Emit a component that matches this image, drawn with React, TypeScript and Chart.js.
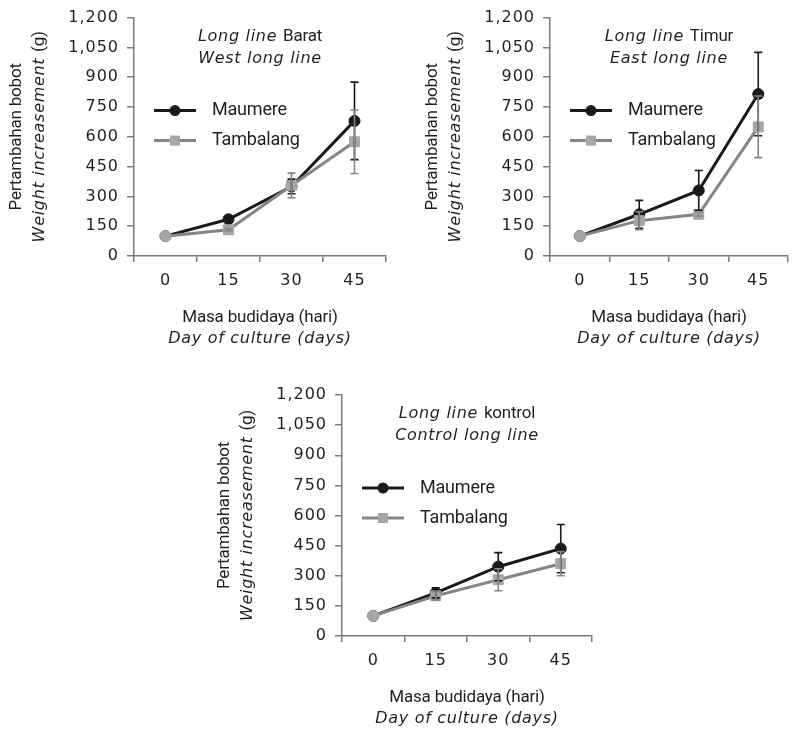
import React, { useEffect, useRef } from "react";
import { Chart, registerables } from "chart.js";
Chart.register(...registerables);

// ---- data ----
const days = ["0", "15", "30", "45"];
const seriesNames = ["Maumere", "Tambalang"];
const yMin = 0;
const yMax = 1200;
const yStep = 150;

const westMaumere = [100, 185, 350, 680];
const westMaumereErr = [0, 12, 37, 195];
const westTambalang = [100, 132, 355, 575];
const westTambalangErr = [0, 6, 62, 160];

const eastMaumere = [100, 210, 330, 815];
const eastMaumereErr = [0, 70, 100, 210];
const eastTambalang = [100, 178, 210, 650];
const eastTambalangErr = [0, 45, 10, 155];

const ctrlMaumere = [100, 215, 345, 435];
const ctrlMaumereErr = [0, 25, 70, 120];
const ctrlTambalang = [100, 200, 280, 360];
const ctrlTambalangErr = [0, 20, 55, 60];

const yTitle1 = "Pertambahan bobot";
const yTitle2 = "Weight increasement";
const xTitle1 = "Masa budidaya (hari)";
const xTitle2 = "Day of culture (days)";

type Seg = { text: string; italic?: boolean };

const ITALIC = 'italic 16px "DejaVu Sans"';
const NORMAL = '17px Roboto';
const TEXT = "#231f20";
const BLACK = "#1a1a1a";
const GRAY_LINE = "#858585";
const GRAY_MARK = "#a6a6a6";
const AXIS = "#7a7a7a";

function drawRich(ctx: CanvasRenderingContext2D, segs: Seg[], cx: number, cy: number) {
  let total = 0;
  const widths = segs.map((s) => {
    ctx.font = s.italic ? ITALIC : NORMAL;
    (ctx as any).letterSpacing = s.italic ? "0.7px" : "-0.2px";
    const w = ctx.measureText(s.text).width;
    total += w;
    return w;
  });
  let x = cx - total / 2;
  ctx.textAlign = "left";
  ctx.textBaseline = "middle";
  ctx.fillStyle = TEXT;
  segs.forEach((s, i) => {
    ctx.font = s.italic ? ITALIC : NORMAL;
    (ctx as any).letterSpacing = s.italic ? "0.7px" : "-0.2px";
    ctx.fillText(s.text, x, cy);
    x += widths[i];
  });
}

type PanelProps = {
  left: number;
  top: number;
  width: number;
  height: number;
  pad: { top: number; right: number; bottom: number; left: number };
  title1: Seg[];
  title2: Seg[];
  maumere: number[];
  maumereErr: number[];
  tambalang: number[];
  tambalangErr: number[];
};

function Panel(p: PanelProps) {
  const ref = useRef<HTMLCanvasElement | null>(null);
  useEffect(() => {
    if (!ref.current) return;
    const decor = {
      id: "decor",
      beforeUpdate(chart: any) {
        chart.ctx.letterSpacing = "1px";
      },
      beforeDraw(chart: any) {
        chart.ctx.letterSpacing = "1px";
      },
      afterDatasetsDraw(chart: any) {
        const ctx: CanvasRenderingContext2D = chart.ctx;
        const ys = chart.scales.y;
        chart.data.datasets.forEach((ds: any, i: number) => {
          const meta = chart.getDatasetMeta(i);
          ctx.save();
          ctx.strokeStyle = ds.errColor;
          ctx.lineWidth = 1.6;
          ds.data.forEach((v: number, j: number) => {
            const e = ds.errors[j];
            if (!e) return;
            const x = meta.data[j].x;
            const y1 = ys.getPixelForValue(v + e);
            const y2 = ys.getPixelForValue(v - e);
            ctx.beginPath();
            ctx.moveTo(x, y1);
            ctx.lineTo(x, y2);
            ctx.moveTo(x - 4, y1);
            ctx.lineTo(x + 4, y1);
            ctx.moveTo(x - 4, y2);
            ctx.lineTo(x + 4, y2);
            ctx.stroke();
          });
          ctx.restore();
        });
      },
      afterDraw(chart: any) {
        const ctx: CanvasRenderingContext2D = chart.ctx;
        const a = chart.chartArea;
        const cx = (a.left + a.right) / 2;
        const cy = (a.top + a.bottom) / 2;
        ctx.save();
        // in-plot title
        drawRich(ctx, p.title1, cx, a.top + 19);
        drawRich(ctx, p.title2, cx, a.top + 41);
        // x title
        drawRich(ctx, [{ text: xTitle1 }], cx, a.bottom + 62);
        drawRich(ctx, [{ text: xTitle2, italic: true }], cx, a.bottom + 83);
        // y title
        ctx.save();
        ctx.translate(a.left - 117, cy);
        ctx.rotate(-Math.PI / 2);
        drawRich(ctx, [{ text: yTitle1 }], 0, 0);
        ctx.restore();
        ctx.save();
        ctx.translate(a.left - 94, cy);
        ctx.rotate(-Math.PI / 2);
        drawRich(ctx, [{ text: yTitle2 + " ", italic: true }, { text: "(g)" }], 0, 0);
        ctx.restore();
        // legend
        const rows = [
          { name: seriesNames[0], line: BLACK, fill: BLACK, shape: "circle", y: a.top + 93 },
          { name: seriesNames[1], line: GRAY_LINE, fill: GRAY_MARK, shape: "rect", y: a.top + 123 },
        ];
        rows.forEach((r) => {
          ctx.strokeStyle = r.line;
          ctx.lineWidth = 3;
          ctx.beginPath();
          ctx.moveTo(a.left + 20, r.y);
          ctx.lineTo(a.left + 62, r.y);
          ctx.stroke();
          ctx.fillStyle = r.fill;
          const mx = a.left + 41;
          if (r.shape === "circle") {
            ctx.beginPath();
            ctx.arc(mx, r.y, 5.5, 0, Math.PI * 2);
            ctx.fill();
          } else {
            ctx.fillRect(mx - 5, r.y - 5, 10, 10);
          }
          ctx.font = "18px Roboto";
          (ctx as any).letterSpacing = "-0.2px";
          ctx.textAlign = "left";
          ctx.textBaseline = "middle";
          ctx.fillStyle = TEXT;
          ctx.fillText(r.name, a.left + 78, r.y);
        });
        ctx.restore();
      },
    };

    const chart = new Chart(ref.current, {
      type: "line",
      data: {
        labels: days,
        datasets: [
          {
            label: seriesNames[0],
            data: p.maumere,
            errors: p.maumereErr,
            errColor: BLACK,
            borderColor: BLACK,
            backgroundColor: BLACK,
            borderWidth: 3,
            pointStyle: "circle",
            pointRadius: 5.5,
            pointBackgroundColor: BLACK,
            pointBorderColor: BLACK,
            pointBorderWidth: 1,
            tension: 0,
            order: 1,
          } as any,
          {
            label: seriesNames[1],
            data: p.tambalang,
            errors: p.tambalangErr,
            errColor: GRAY_LINE,
            borderColor: GRAY_LINE,
            backgroundColor: GRAY_MARK,
            borderWidth: 3,
            pointStyle: ["circle", "rect", "rect", "rect"],
            pointRadius: [5.5, 7, 7, 7],
            pointBackgroundColor: GRAY_MARK,
            pointBorderColor: GRAY_MARK,
            pointBorderWidth: 1,
            tension: 0,
            order: 0,
          } as any,
        ],
      },
      options: {
        responsive: false,
        animation: false,
        layout: { padding: p.pad },
        plugins: { legend: { display: false }, tooltip: { enabled: false } },
        scales: {
          x: {
            offset: true,
            grid: {
              offset: true,
              drawOnChartArea: false,
              drawTicks: true,
              tickLength: 6,
              color: AXIS,
              lineWidth: 1.5,
            },
            border: { color: AXIS, width: 1.5 },
            ticks: {
              color: TEXT,
              padding: 9,
              font: { family: "DejaVu Sans", size: 16 },
              maxRotation: 0,
            },
            afterFit: (s: any) => {
              s.height = 44;
            },
          },
          y: {
            min: yMin,
            max: yMax,
            grid: {
              drawOnChartArea: false,
              drawTicks: true,
              tickLength: 7,
              color: AXIS,
              lineWidth: 1.5,
            },
            border: { color: AXIS, width: 1.5 },
            ticks: {
              stepSize: yStep,
              color: TEXT,
              padding: 8,
              font: { family: "DejaVu Sans", size: 16 },
              callback: (v: any) => Number(v).toLocaleString("en-US"),
            },
            afterFit: (s: any) => {
              s.width = 78;
            },
          },
        },
      },
      plugins: [decor],
    });
    return () => chart.destroy();
  }, []);
  return (
    <canvas
      ref={ref}
      width={p.width}
      height={p.height}
      style={{ position: "absolute", left: p.left, top: p.top, width: p.width, height: p.height }}
    />
  );
}

export default function App() {
  return (
    <div style={{ position: "absolute", left: 0, top: 0, width: 796, height: 732, background: "#fff" }}>
      <Panel
        left={0}
        top={0}
        width={400}
        height={360}
        pad={{ top: 13, right: 14, bottom: 60, left: 56 }}
        title1={[{ text: "Long line ", italic: true }, { text: "Barat" }]}
        title2={[{ text: "West long line", italic: true }]}
        maumere={westMaumere}
        maumereErr={westMaumereErr}
        tambalang={westTambalang}
        tambalangErr={westTambalangErr}
      />
      <Panel
        left={400}
        top={0}
        width={396}
        height={360}
        pad={{ top: 13, right: 1, bottom: 60, left: 72 }}
        title1={[{ text: "Long line ", italic: true }, { text: "Timur" }]}
        title2={[{ text: "East long line", italic: true }]}
        maumere={eastMaumere}
        maumereErr={eastMaumereErr}
        tambalang={eastTambalang}
        tambalangErr={eastTambalangErr}
      />
      <Panel
        left={200}
        top={370}
        width={400}
        height={362}
        pad={{ top: 25, right: 6, bottom: 52, left: 64 }}
        title1={[{ text: "Long line ", italic: true }, { text: "kontrol" }]}
        title2={[{ text: "Control long line", italic: true }]}
        maumere={ctrlMaumere}
        maumereErr={ctrlMaumereErr}
        tambalang={ctrlTambalang}
        tambalangErr={ctrlTambalangErr}
      />
    </div>
  );
}
